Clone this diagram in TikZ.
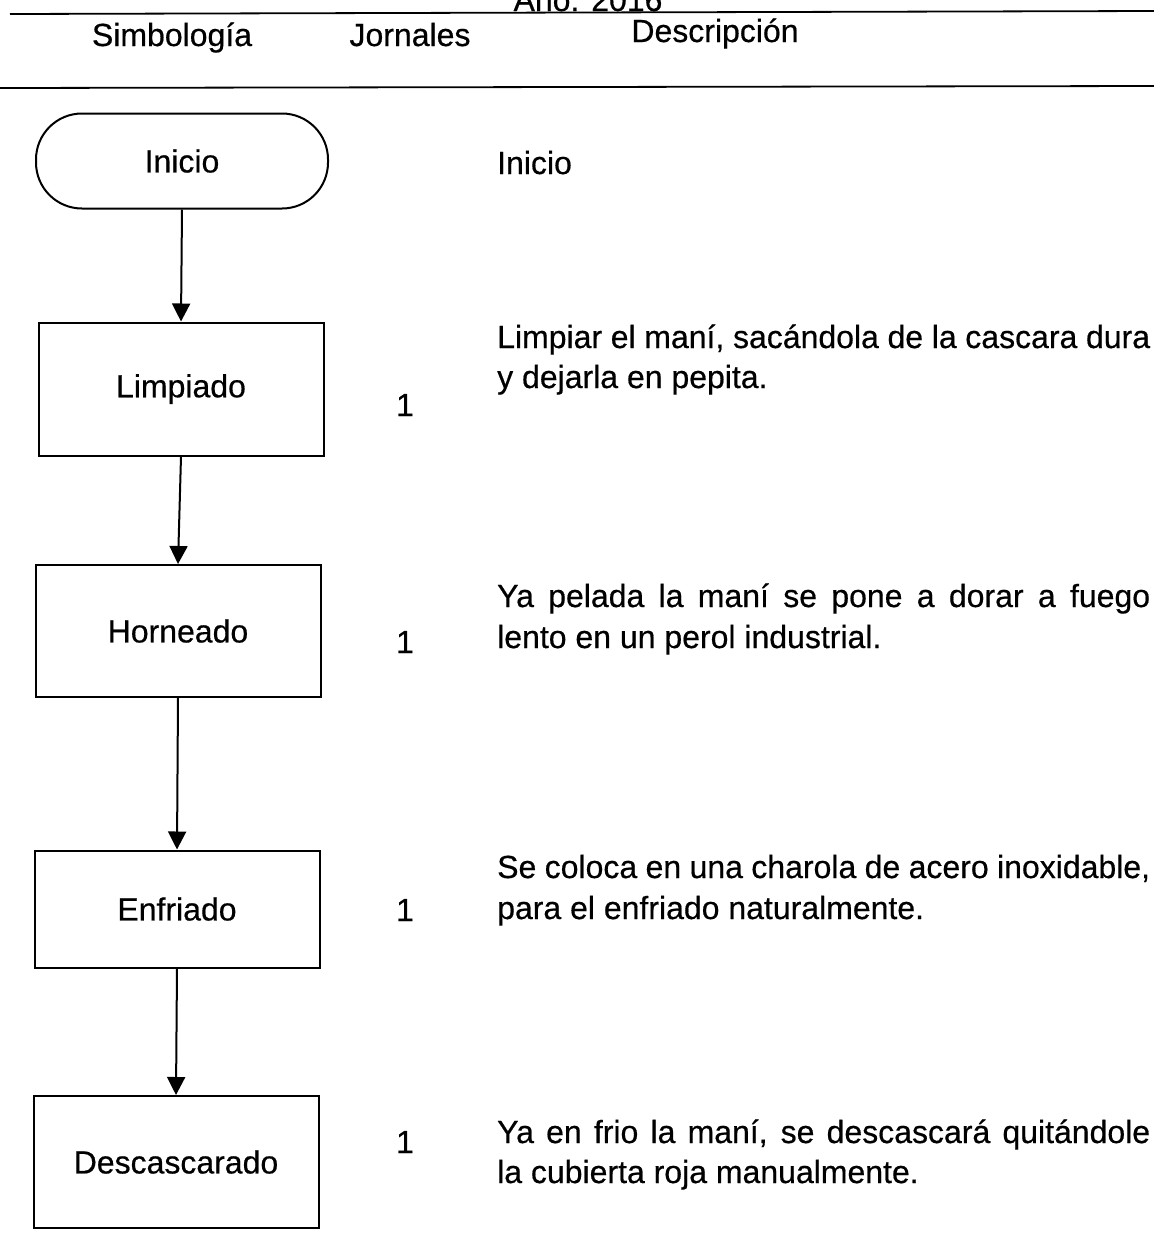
\documentclass[tikz,border=0pt]{standalone}
\usepackage{fontspec}
\setmainfont{Liberation Sans}[FakeBold=0.5]
\usetikzlibrary{arrows.meta}
\begin{document}
\begin{tikzpicture}[x=1pt,y=-1pt,
  bigfont/.style={font=\fontsize{32}{40}\selectfont},
  txt/.style={bigfont, inner sep=0pt},
  stepbox/.style={draw, line width=2pt, minimum width=285pt, minimum height=133pt, bigfont, inner sep=0pt},
  termbox/.style={draw, line width=2pt, rounded corners=46pt, minimum width=292pt, minimum height=95pt, bigfont, inner sep=0pt},
  flow/.style={-{Triangle[length=18pt,width=18pt]}, line width=2pt},
  rule/.style={line width=1.8pt},
  desc/.style={txt, anchor=base west}]
\useasboundingbox (0,0) rectangle (1154,1259);
\clip (0,0) rectangle (1154,1259);
\fill[white] (0,0) rectangle (1154,1259);

% header
\node[txt, anchor=base] (ano) at (588,11) {Año: 2016};
\draw[rule] (10,14) -- (1154,11);
\draw[rule] (0,88) -- (1154,86);
\node[txt, anchor=base] (h1) at (172,46) {Simbología};
\node[txt, anchor=base] (h2) at (410,46) {Jornales};
\node[txt, anchor=base] (h3) at (715,42) {Descripción};

% flow
\node[termbox] (ini) at (182,161) {Inicio};
\node[stepbox] (lim) at (181,389) {Limpiado};
\node[stepbox, minimum height=132pt] (hor) at (178,631) {Horneado};
\node[stepbox, minimum height=117pt] (enf) at (177,909) {Enfriado};
\node[stepbox, minimum height=132pt] (des) at (176,1162) {Descascarado};

\draw[flow] (ini.south) -- (lim.north);
\draw[flow] (lim.south) -- (hor.north);
\draw[flow] (hor.south) -- (enf.north);
\draw[flow] (enf.south) -- (des.north);

% jornales
\node[txt] (j1) at (405,405) {1};
\node[txt] (j2) at (405,642) {1};
\node[txt] (j3) at (405,910) {1};
\node[txt] (j4) at (405,1142) {1};

% descriptions
\node[desc] (d0) at (497,174) {Inicio};
\node[desc] (d1) at (497,348) {\parbox[t]{653pt}{\fontsize{32}{40}\selectfont Limpiar el maní, sacándola de la cascara dura\linebreak y dejarla en pepita.}};
\node[desc] (d2) at (497,607) {\parbox[t]{653pt}{\fontsize{32}{41}\selectfont Ya pelada la maní se pone a dorar a fuego\linebreak lento en un perol industrial.}};
\node[desc] (d3) at (497,878) {\parbox[t]{653pt}{\fontsize{32}{41}\selectfont Se coloca en una charola de acero inoxidable,\linebreak para el enfriado naturalmente.}};
\node[desc] (d4) at (497,1143) {\parbox[t]{653pt}{\fontsize{32}{40}\selectfont Ya en frio la maní, se descascará quitándole\linebreak la cubierta roja manualmente.}};
\end{tikzpicture}
\end{document}
